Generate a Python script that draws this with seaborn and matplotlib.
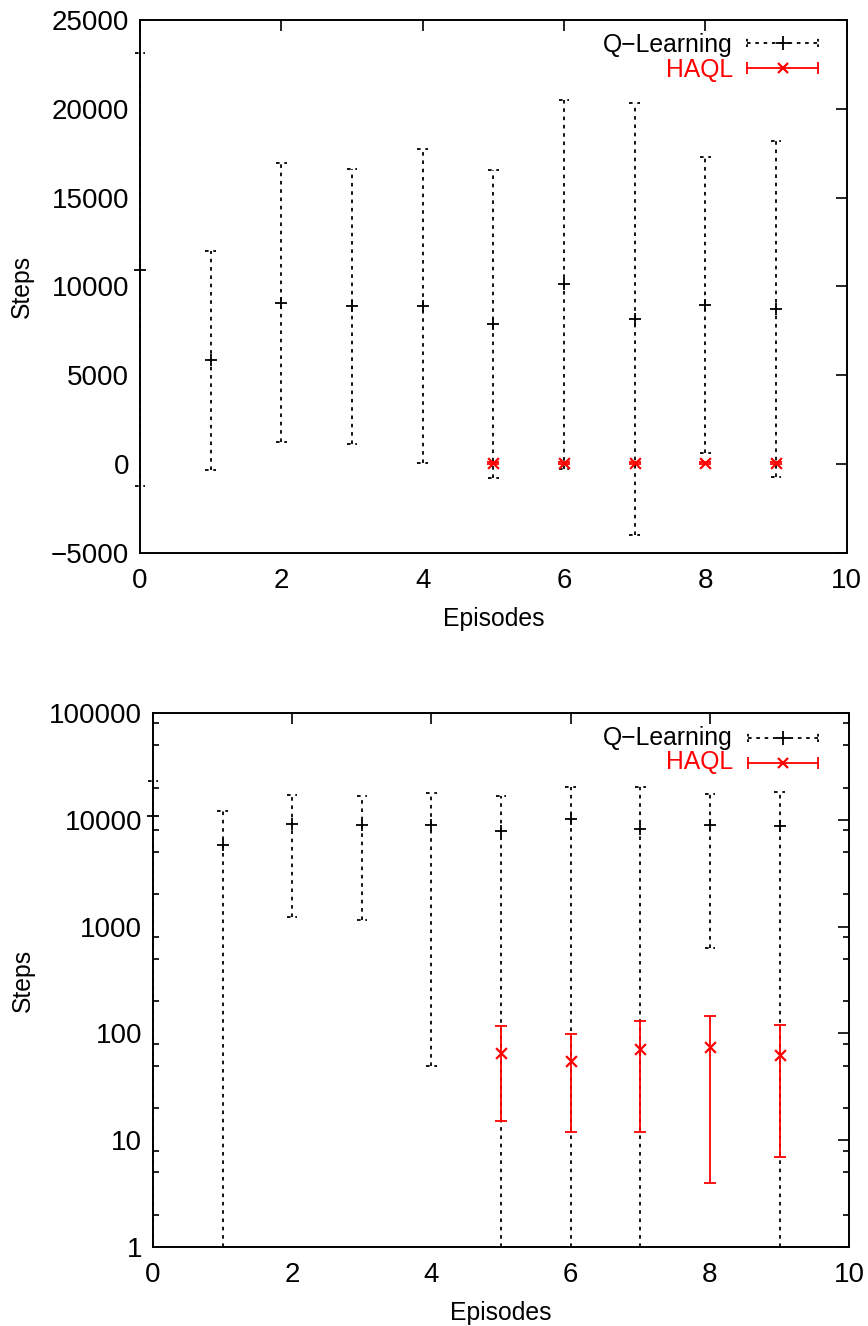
import numpy as np
import pandas as pd
import matplotlib
matplotlib.use("Agg")
import matplotlib.pyplot as plt
from matplotlib.ticker import FixedLocator, NullFormatter
import seaborn as sns

# ---- data ----
q_episodes = [0, 1, 2, 3, 4, 5, 6, 7, 8, 9]
q_mean = [10930, 5850, 9070, 8870, 8880, 7890, 10115, 8175, 8945, 8735]
q_err = [12190, 6160, 7850, 7720, 8830, 8670, 10365, 12175, 8315, 9455]

h_episodes = [5, 6, 7, 8, 9]
h_mean = [66, 55, 72, 75, 63]
h_err = [51, 43, 60, 71, 56]

lin_yticks = [-5000, 0, 5000, 10000, 15000, 20000, 25000]
log_yticks = [1, 10, 100, 1000, 10000, 100000]
log_ylabels = ["1", "10", "100", "1000", "10000", "100000"]
xticks = [0, 2, 4, 6, 8, 10]

sns.set_theme(style="white")
plt.rcParams["font.family"] = ["Liberation Sans", "DejaVu Sans"]
for k in ["text.color", "axes.labelcolor", "xtick.color", "ytick.color", "axes.edgecolor"]:
    plt.rcParams[k] = "black"
FS_TICK = 20
FS_TEXT = 17.8

qdf = pd.DataFrame({"ep": q_episodes, "mean": q_mean, "err": q_err})
qdf["lo"] = qdf["mean"] - qdf["err"]
qdf["hi"] = qdf["mean"] + qdf["err"]
hdf = pd.DataFrame({"ep": h_episodes, "mean": h_mean, "err": h_err})

DOT = (0, (2.0, 2.6))
CAPW = 0.075

fig = plt.figure(figsize=(8.68, 13.26), dpi=100)
ax1 = fig.add_axes([0.1613, 0.583, 0.8140, 0.402])
ax2 = fig.add_axes([0.1763, 0.0596, 0.8020, 0.4027])


def draw(ax, logy, key, ylab_x):
    ymin = 1 if logy else -5000
    # Q-learning error bars (dotted)
    ax.vlines(qdf["ep"], qdf["lo"].clip(lower=ymin if logy else None), qdf["hi"],
              colors="black", linestyles=[DOT], linewidth=1.3, zorder=2)
    for col in ["lo", "hi"]:
        sel = qdf[qdf[col] > ymin]
        ax.hlines(sel[col], sel["ep"] - CAPW, sel["ep"] + CAPW, colors="black",
                  linestyles=[DOT], linewidth=1.3, zorder=2)
    sns.scatterplot(data=qdf, x="ep", y="mean", marker="+", s=70, color="black",
                    linewidth=1.3, ax=ax, zorder=3, legend=False)
    # HAQL error bars (solid red)
    ax.errorbar(hdf["ep"], hdf["mean"], yerr=hdf["err"], fmt="none", ecolor="red",
                elinewidth=1.3, capsize=4, capthick=1.3, zorder=4)
    sns.scatterplot(data=hdf, x="ep", y="mean", marker="x", s=60, color="red",
                    linewidth=1.6, ax=ax, zorder=5, legend=False)
    for coll in ax.collections:
        coll.set_clip_on(False)

    ax.set_xlim(0, 10)
    ax.set_xticks(xticks)
    ax.set_xticklabels([str(t) for t in xticks])
    if logy:
        ax.set_yscale("log")
        ax.set_ylim(1, 100000)
        ax.yaxis.set_major_locator(FixedLocator(log_yticks))
        ax.set_yticklabels(log_ylabels)
        minors = [m * 10.0 ** d for d in range(0, 5) for m in (2, 5, 8)]
        ax.yaxis.set_minor_locator(FixedLocator(minors))
        ax.yaxis.set_minor_formatter(NullFormatter())
    else:
        ax.set_ylim(-5000, 25000)
        ax.set_yticks(lin_yticks)
        ax.set_yticklabels([str(t).replace("-", "\u2212") for t in lin_yticks])
    ax.set_xlabel("Episodes", fontsize=FS_TEXT, labelpad=9)
    ax.set_ylabel("Steps", fontsize=FS_TEXT)
    ax.yaxis.set_label_coords(ylab_x, 0.5)
    ax.tick_params(axis="both", which="major", direction="in", length=8, width=1.2,
                   top=True, right=True, labelsize=FS_TICK, color="black")
    ax.tick_params(axis="x", which="major", pad=11)
    ax.tick_params(axis="y", which="major", pad=8)
    ax.tick_params(axis="y", which="minor", direction="in", length=4, width=1.2,
                   left=True, right=True, color="black")
    for s in ax.spines.values():
        s.set_linewidth(1.4)
        s.set_color("black")
    ax.set_facecolor("white")

    # gnuplot-style key (text right-aligned, sample to the right)
    tx, sx0, sx1, sm, yq_t, yq_l, yh_t, yh_l = key
    ax.text(tx, yq_t, "Q\u2212Learning", transform=ax.transAxes, ha="right", va="baseline",
            fontsize=FS_TEXT, color="black")
    ax.text(tx, yh_t, "HAQL", transform=ax.transAxes, ha="right", va="baseline",
            fontsize=FS_TEXT, color="red")
    ax.plot([sx0, sx1], [yq_l, yq_l], transform=ax.transAxes, color="black", ls=DOT, lw=1.3)
    for sx in (sx0, sx1):
        ax.plot([sx, sx], [yq_l - 0.008, yq_l + 0.008], transform=ax.transAxes,
                color="black", ls=(0, (1.5, 1.5)), lw=1.3)
    ax.plot([sm], [yq_l], transform=ax.transAxes, marker="+", ms=10, mew=1.3, color="black")
    ax.plot([sx0, sx1], [yh_l, yh_l], transform=ax.transAxes, color="red", lw=1.3)
    ax.plot([sx0, sx1], [yh_l, yh_l], transform=ax.transAxes, color="red", ls="none",
            marker="|", ms=9, mew=1.3)
    ax.plot([sm], [yh_l], transform=ax.transAxes, marker="x", ms=7, mew=1.6, color="red")


draw(ax1, False, (0.839, 0.8596, 0.960, 0.9106, 0.9394, 0.9574, 0.8937, 0.9094), -0.150)
draw(ax2, True, (0.833, 0.854, 0.9556, 0.9056, 0.940, 0.9537, 0.8946, 0.907), -0.170)

fig.savefig("out.png", dpi=100, facecolor="white")
